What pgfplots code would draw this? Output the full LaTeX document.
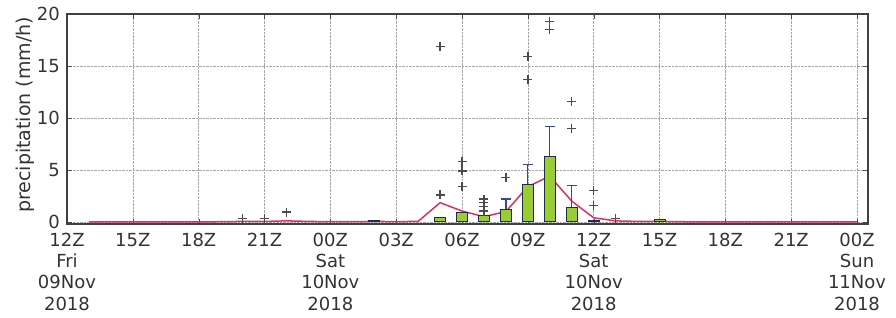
\documentclass[border=0pt]{standalone}
\usepackage{fontspec}
\setmainfont{DejaVu Sans}
\usepackage{pgfplots}
\pgfplotsset{compat=1.18}
\definecolor{boxfill}{HTML}{9ACD32}
\definecolor{boxedge}{HTML}{1F2A5A}
\definecolor{whisk}{HTML}{3344AA}
\definecolor{redline}{HTML}{E0305A}
\definecolor{txt}{HTML}{333333}
\begin{document}
\begin{tikzpicture}[x=1pt,y=1pt]
\begin{axis}[
  name=ax,
  scale only axis,
  width=801pt, height=210pt,
  xmin=0, xmax=36.5, ymin=-0.2, ymax=20,
  xtick={0,3,...,36},
  xticklabels={{12Z\\Fri\\09Nov\\2018},15Z,18Z,21Z,{00Z\\Sat\\10Nov\\2018},03Z,06Z,09Z,{12Z\\Sat\\10Nov\\2018},15Z,18Z,21Z,{00Z\\Sun\\11Nov\\2018}},
  ytick={0,5,10,15,20},
  xticklabel style={align=center, font=\fontsize{18}{21.2}\selectfont, text=txt, inner sep=0pt, yshift=-9pt},
  yticklabel style={font=\fontsize{18}{20}\selectfont, text=txt, inner sep=0pt, xshift=-7pt},
  /pgf/number format/assume math mode=true,
  every axis y label/.style={at={(rel axis cs:0,0.52)}, rotate=90, anchor=center, yshift=42pt},
  ylabel={precipitation (mm/h)},
  ylabel style={font=\fontsize{19}{20}\selectfont, text=txt},
  grid=major,
  major grid style={densely dotted, gray!70},
  tick align=inside,
  major tick length=5pt,
  axis line style={black!75, line width=1.2pt},
  tick style={black!70},
  clip=true,
]
% red mean line
\addplot[redline, line width=1.5pt] coordinates {
(1,0) (2,0) (3,0) (4,0) (5,0) (6,0) (7,0.02) (8,0.05) (9,0.05) (10,0.1) (11,0.05) (12,0.02) (13,0.02) (14,0.05) (15,0.03) (16,0.05)
(17,1.85) (18,1.05) (19,0.5) (20,1.0) (21,3.4) (22,4.4) (23,2.0) (24,0.4) (25,0.1) (26,0.05) (27,0.05) (28,0.02) (29,0) (30,0) (31,0) (32,0) (33,0) (34,0) (35,0) (36,0)
};
% whiskers
\addplot[draw=none, mark=none,
  error bars/.cd, y dir=plus, y explicit,
  error bar style={whisk, line width=1.2pt},
  error mark options={rotate=90, mark size=5pt, line width=1.2pt, whisk}]
  coordinates {
(20,1.2) +- (0,1.0)
(21,3.6) +- (0,1.9)
(22,6.3) +- (0,2.9)
(23,1.4) +- (0,2.1)
};
% boxes
\addplot[ybar, bar width=11pt, fill=boxfill, draw=boxedge, line width=1pt, bar shift=0pt] coordinates {
(14,0.15) (17,0.4) (18,0.9) (19,0.6) (20,1.2) (21,3.6) (22,6.3) (23,1.4) (24,0.1) (27,0.25)
};
% outliers
\addplot[only marks, mark=+, mark size=4.5pt, line width=1.3pt, black!70] coordinates {
(8,0.3) (9,0.35) (10,0.95)
(17,2.6) (17,16.9)
(18,5.8) (18,4.9) (18,3.4)
(19,2.2) (19,1.85) (19,1.5) (19,1.05)
(20,4.3)
(21,13.7) (21,15.9)
(22,18.5) (22,19.3)
(23,9.0) (23,11.6)
(24,3.0) (24,1.6)
(25,0.3)
};
\end{axis}
\pgfresetboundingbox
\path (ax.south west) ++(-67pt,-94pt) rectangle ++(896pt,318pt);
\end{tikzpicture}
\end{document}
